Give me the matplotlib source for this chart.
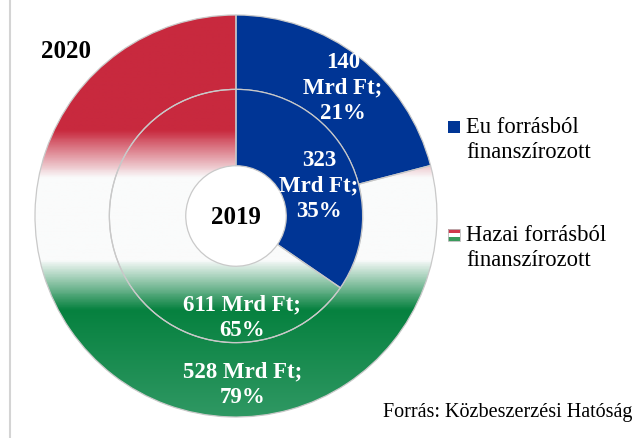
import numpy as np
import matplotlib.pyplot as plt
from matplotlib.colors import LinearSegmentedColormap
from matplotlib.patches import Rectangle
from matplotlib.lines import Line2D

# data
series = ['Eu forrásból\nfinanszírozott', 'Hazai forrásból\nfinanszírozott']
values_2020 = [140, 528]
pct_2020 = [21, 79]
values_2019 = [323, 611]
pct_2019 = [35, 65]

blue = '#003595'
edge = '#c9c9c9'
font = 'Liberation Serif'

# red - white - green gradient (bottom -> top)
flag = LinearSegmentedColormap.from_list('flag', [
    (0.0, '#2f9863'), (0.265, '#06813f'), (0.39, '#fafbfb'),
    (0.595, '#fafbfb'), (0.715, '#c8293e'), (1.0, '#c8293e')])
grad = np.linspace(1, -1, 500).reshape(-1, 1)

W, H = 638, 439
fig = plt.figure(figsize=(W / 100, H / 100), dpi=100)
cx, cy, R = 236, 217, 201
ax = fig.add_axes([(cx - R) / W, (H - cy - R) / H, 2 * R / W, 2 * R / H])

wp = dict(edgecolor=edge, linewidth=0.9)
outer, _ = ax.pie(values_2020, radius=1, startangle=90, counterclock=False,
                  colors=[blue, 'none'], wedgeprops=dict(width=0.37, **wp))
inner, _ = ax.pie(values_2019, radius=0.63, startangle=90, counterclock=False,
                  colors=[blue, 'none'], wedgeprops=dict(width=0.38, **wp))

for w in (outer[1], inner[1]):
    im = ax.imshow(grad, extent=[-1, 1, -1, 1], cmap=flag, vmin=-1, vmax=1,
                   aspect='auto', interpolation='bilinear', zorder=0.5)
    im.set_clip_path(w)

ax.set_xlim(-1, 1)
ax.set_ylim(-1, 1)
ax.axis('off')

lab = dict(color='white', fontweight='bold', fontsize=16.5, family=font,
           ha='center', va='center', linespacing=1.28)
ax.text(0.532, 0.64, f'{values_2020[0]}\nMrd Ft;\n{pct_2020[0]}%', **lab)
ax.text(0.413, 0.154, f'{values_2019[0]}\nMrd Ft;\n{pct_2019[0]}%', **lab)
ax.text(0.03, -0.5, f'{values_2019[1]} Mrd Ft;\n{pct_2019[1]}%', **lab)
ax.text(0.035, -0.836, f'{values_2020[1]} Mrd Ft;\n{pct_2020[1]}%', **lab)

ax.text(0, 0, '2019', fontsize=18, fontweight='bold', family=font,
        ha='center', va='center')
fig.text(66 / W, 1 - 52 / H, '2020', fontsize=18, fontweight='bold',
         family=font, ha='center', va='center')

# legend
def px(x, y):
    return x / W, 1 - y / H

s = 12
fig.add_artist(Rectangle(px(448, 134), s / W, s / H, transform=fig.transFigure,
                         facecolor=blue, edgecolor='none'))
fx, fy = px(448, 242)
for i, c in enumerate(['#3a9a5c', '#ffffff', '#d0384c']):
    fig.add_artist(Rectangle((fx, fy + i * s / 3 / H), s / W, s / 3 / H,
                             transform=fig.transFigure, facecolor=c,
                             edgecolor='none'))
fig.add_artist(Rectangle((fx, fy), s / W, s / H, transform=fig.transFigure,
                         facecolor='none', edgecolor='#bbbbbb', linewidth=0.6))
fig.text(*px(466, 140), series[0], fontsize=16.3, family=font, ha='left',
         va='center', linespacing=1.25)
fig.text(*px(466, 248), series[1], fontsize=16.3, family=font, ha='left',
         va='center', linespacing=1.25)

fig.text(*px(632, 413), 'Forrás: Közbeszerzési Hatóság', fontsize=14.5,
         family=font, ha='right', va='center')

fig.add_artist(Line2D([10 / W, 10 / W], [0, 1], transform=fig.transFigure,
                      color='#d4d4d4', linewidth=1.5))

fig.savefig('out.png', dpi=100)
